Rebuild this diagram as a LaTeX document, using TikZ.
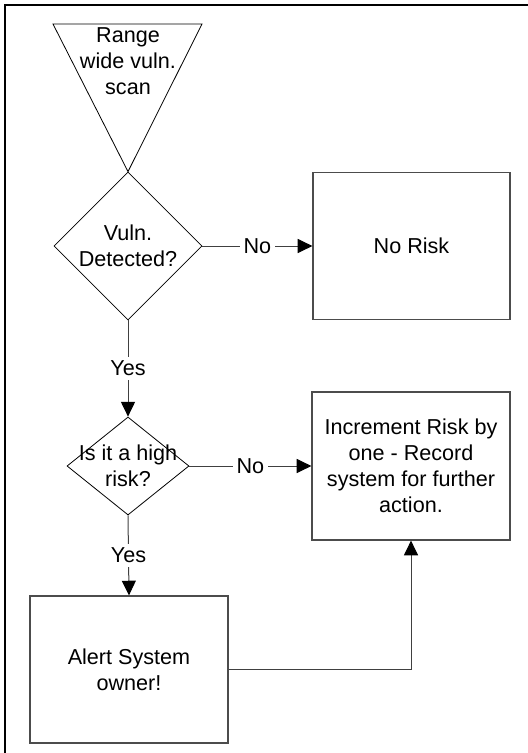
\documentclass[tikz,border=0pt]{standalone}
\usepackage{fontspec}
\setmainfont{Liberation Sans}
\usetikzlibrary{shapes,arrows.meta,positioning,calc}

\begin{document}
\begin{tikzpicture}[x=0.75pt, y=-0.75pt, font=\fontsize{16.2}{19.5}\selectfont,
  every node/.style={align=center},
  block/.style={rectangle, draw=black!70, line width=0.9pt, inner sep=0pt},
  decision/.style={diamond, draw, line width=0.6pt, inner sep=0pt},
  flow/.style={draw=black!75, line width=0.75pt, -{Triangle[length=11pt, width=10.5pt, color=black]}},
  tag/.style={fill=white, inner sep=3pt}]
\useasboundingbox (0,0) rectangle (528,753);
\draw[line width=1.5pt] (528,5) -- (5,5) -- (5,753);

\node[decision, minimum width=111pt, minimum height=111pt] (vuln) at (128,246) {};
\node (vulntxt) at (vuln) {Vuln.\\Detected?};
\draw[line width=0.6pt] (53,24) -- (202,24) -- (vuln.north) -- cycle;
\node (scan) at (128,61) {Range\\wide vuln.\\scan};

\node[block, minimum width=147.75pt, minimum height=110.25pt] (norisk) at (411.5,246) {No Risk};

\node[decision, minimum width=91.5pt, minimum height=73.5pt] (high) at (128,466) {};
\node (hightxt) at (high) {Is it a high\\risk?};

\node[block, minimum width=148.5pt, minimum height=111pt] (incr) at (411,466) {Increment Risk by\\one - Record\\system for further\\action.};
\node[block, minimum width=148.5pt, minimum height=110.25pt] (alert) at (129,669.5) {Alert System\\owner!};

\draw[flow] (vuln.east) -- node[tag] {No} (norisk.west);
\draw[flow] (vuln.south) -- node[tag] {Yes} (high.north);
\draw[flow] (high.east) -- node[tag] {No} (incr.west);
\draw[flow] (high.south) -- node[tag] {Yes} (alert.north);
\draw[flow] (alert.east) -| (incr.south);
\end{tikzpicture}
\end{document}
